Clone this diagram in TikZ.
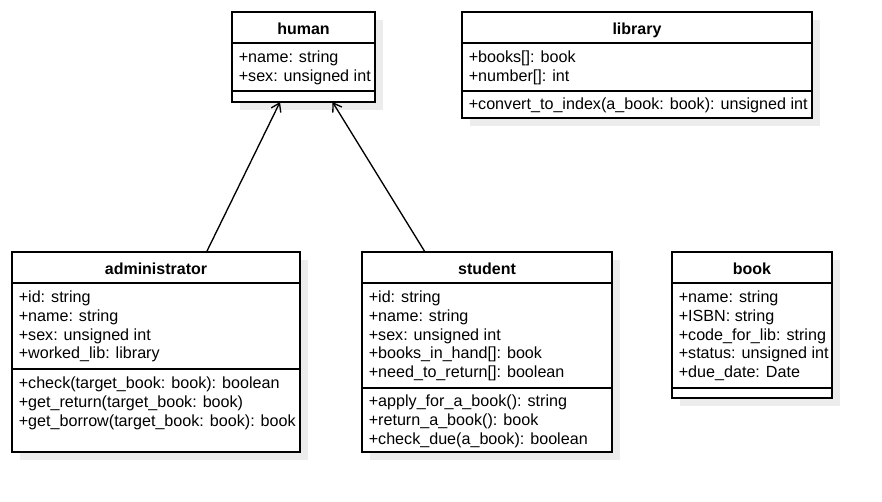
\documentclass[tikz,border=0pt]{standalone}
\usepackage{fontspec}
\setmainfont{Liberation Sans}
\usetikzlibrary{arrows.meta,fit,shadows}
\definecolor{shadowgray}{RGB}{236,236,236}
\begin{document}
\begin{tikzpicture}[x=0.75pt,y=-0.75pt,
  classbox/.style={draw, fill=white, line width=1pt, inner sep=0pt, outer sep=0pt,
    drop shadow={shadow xshift=6pt,shadow yshift=-6pt,fill=shadowgray,opacity=1}},
  divider/.style={line width=1pt},
  ctitle/.style={anchor=base, inner sep=0pt, font=\fontsize{12pt}{14pt}\selectfont\bfseries},
  members/.style={anchor=north west, inner sep=0pt, align=left, font=\fontsize{12.1pt}{14pt}\selectfont},
  inherit/.style={line width=1pt, -{Straight Barb[length=6pt,width=8pt]}}]
\useasboundingbox (0,0) rectangle (882,502);

% human
\node[classbox, fit={(232,12) (375,102)}] (human) {};
\draw[divider] (232,43) -- (375,43);
\draw[divider] (232,91) -- (375,91);
\node[ctitle] (humanT) at (303.5,34.3) {human};
\node[members] (humanA) at (238.5,49.6) {\strut+name: string\\+sex: unsigned int};

% library
\node[classbox, fit={(462,12) (812,118)}] (library) {};
\draw[divider] (462,43) -- (812,43);
\draw[divider] (462,91) -- (812,91);
\node[ctitle] (libraryT) at (637,34.3) {library};
\node[members] (libraryA) at (468.5,49.6) {\strut+books[]: book\\+number[]: int};
\node[members] (libraryM) at (468.5,96) {\strut+convert\_to\_index(a\_book: book): unsigned int};

% administrator
\node[classbox, fit={(12,252) (300,452)}] (admin) {};
\draw[divider] (12,283) -- (300,283);
\draw[divider] (12,369) -- (300,369);
\node[ctitle] (adminT) at (156,274.3) {administrator};
\node[members] (adminA) at (18.5,289.6) {\strut+id: string\\+name: string\\+sex: unsigned int\\+worked\_lib: library};
\node[members] (adminM) at (18.5,375.4) {\strut+check(target\_book: book): boolean\\+get\_return(target\_book: book)\\+get\_borrow(target\_book: book): book};

% student
\node[classbox, fit={(362,252) (612,452)}] (student) {};
\draw[divider] (362,283) -- (612,283);
\draw[divider] (362,388) -- (612,388);
\node[ctitle] (studentT) at (487,274.3) {student};
\node[members] (studentA) at (368.5,289.6) {\strut+id: string\\+name: string\\+sex: unsigned int\\+books\_in\_hand[]: book\\+need\_to\_return[]: boolean};
\node[members] (studentM) at (368.5,393.6) {\strut+apply\_for\_a\_book(): string\\+return\_a\_book(): book\\+check\_due(a\_book): boolean};

% book
\node[classbox, fit={(672,252) (832,398)}] (book) {};
\draw[divider] (672,283) -- (832,283);
\draw[divider] (672,388) -- (832,388);
\node[ctitle] (bookT) at (752,274.3) {book};
\node[members] (bookA) at (678.5,289.6) {\strut+name: string\\+ISBN: string\\+code\_for\_lib: string\\+status: unsigned int\\+due\_date: Date};

% inheritance
\draw[inherit] ([xshift=37.9pt]admin.north) -- ([xshift=-17.6pt]human.south);
\draw[inherit] ([xshift=-46.5pt]student.north) -- ([xshift=21.75pt]human.south);
\end{tikzpicture}
\end{document}
